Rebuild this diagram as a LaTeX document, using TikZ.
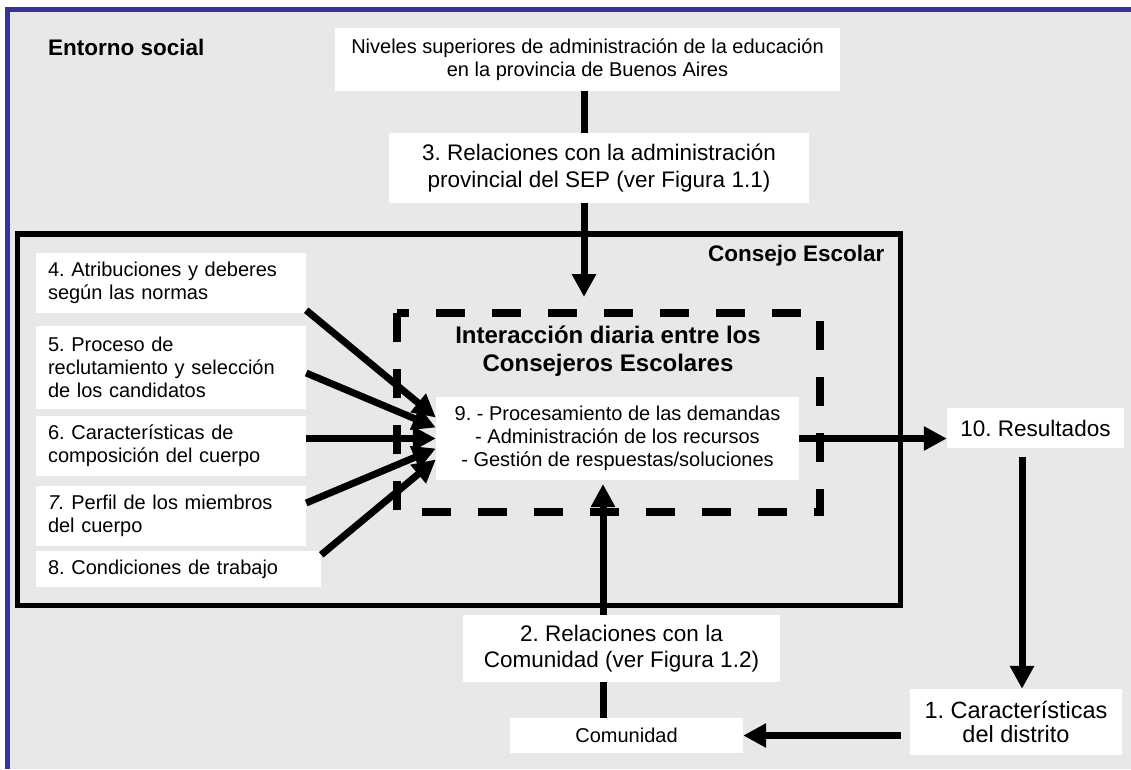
\documentclass[tikz,border=0pt]{standalone}
\usepackage{fontspec}
\setmainfont{Liberation Sans}
\usetikzlibrary{arrows.meta}
\definecolor{bggray}{RGB}{232,232,232}
\definecolor{frameblue}{RGB}{51,51,153}
\frenchspacing
\tikzset{
  flow/.style={draw=black,line width=7pt,-{Triangle[length=23pt,width=23pt]}},
  link/.style={draw=black,line width=7pt},
  box/.style={fill=white,inner sep=0pt,align=center},
  lbox/.style={fill=white,inner xsep=12pt,inner ysep=0pt,align=left,text width=246pt},
  txt/.style={font=\fontsize{20}{23}\selectfont},
  big/.style={font=\fontsize{22.5}{26.5}\selectfont},
  head/.style={inner sep=0pt,font=\bfseries\fontsize{22.5}{27}\selectfont}
}

\begin{document}
\begin{tikzpicture}[x=1pt,y=-1pt]
    \useasboundingbox (0,0) rectangle (1131,769);
    \fill[white] (0,0) rectangle (1131,769);
    \fill[bggray] (7.5,9.5) rectangle (1131,769);
    \draw[frameblue,line width=5pt] (7.5,769) -- (7.5,9.5) -- (1131,9.5);
    \draw[line width=5.5pt] (17.5,234) rectangle (900.5,605.5);
    \draw[line width=8pt,dash pattern=on 29pt off 27pt] (397,313) rectangle (820,512);

    \node[head,anchor=base west] (ES) at (48,55) {Entorno social};
    \node[head,anchor=base west] (CE) at (708,261) {Consejo Escolar};
    \node[inner sep=0pt,align=center,font=\bfseries\fontsize{24}{28}\selectfont] (IT) at (608,351) {Interacción diaria entre los\\Consejeros Escolares};

    \node[box,txt,minimum width=505pt,minimum height=63pt] (N) at (587.5,59.5) {Niveles superiores de administración de la educación\\en la provincia de Buenos Aires};
    \node[box,big,minimum width=420pt,minimum height=70pt] (R3) at (599,168) {3. Relaciones con la administración\\provincial del SEP (ver Figura 1.1)};
    \node[box,txt,minimum width=363pt,minimum height=83pt] (I9) at (617.5,438.5) {9. - Procesamiento de las demandas\\- Administración de los recursos\\- Gestión de respuestas/soluciones};

    \node[lbox,txt,minimum height=60pt] (A4) at (171,283) {4. Atribuciones y deberes\\según las normas};
    \node[lbox,txt,minimum height=83pt] (P5) at (171,367.5) {5. Proceso de\\reclutamiento y selección\\de los candidatos};
    \node[lbox,txt,minimum height=60pt] (C6) at (171,446) {6. Características de\\composición del cuerpo};
    \node[lbox,txt,minimum height=60pt] (M7) at (171,516) {\textit{7.} Perfil de los miembros\\del cuerpo};
    \node[lbox,txt,text width=261pt,minimum height=36pt] (T8) at (178.5,569) {8. Condiciones de trabajo};

    \node[box,big,minimum width=177pt,minimum height=40pt] (R10) at (1035.5,428) {10. Resultados};
    \node[box,font=\fontsize{23.5}{24.5}\selectfont,minimum width=212pt,minimum height=66pt] (D1) at (1016,722) {1. Características\\del distrito};
    \node[box,big,minimum width=317pt,minimum height=67pt] (R2) at (621.5,648.5) {2. Relaciones con la\\Comunidad (ver Figura 1.2)};
    \node[box,txt,minimum width=233pt,minimum height=35pt] (C) at (626.5,735.5) {Comunidad};

    \coordinate (T3) at (584,297);
    \draw[link] (N.south -| T3) -- (R3.north -| T3);
    \draw[flow] (R3.south -| T3) -- (T3);
    \coordinate (T2) at (603,484);
    \draw[link] (C.north -| T2) -- (R2.south -| T2);
    \draw[flow] (R2.north -| T2) -- (T2);

    \draw[flow] ([yshift=3pt]A4.south east) -- ([yshift=21pt]I9.west);
    \draw[flow] ([yshift=-5.5pt]P5.east) -- ([yshift=11pt]I9.west);
    \draw[flow] (C6.east |- I9.west) -- (I9.west);
    \draw[flow] ([yshift=13pt]M7.east) -- ([yshift=-10pt]I9.west);
    \draw[flow] ([yshift=-4pt]T8.north east) -- ([yshift=-21pt]I9.west);

    \draw[flow] (I9.east) -- (I9.east -| R10.west);
    \coordinate (T10) at (1022,457);
    \draw[flow] (T10) -- (T10 |- D1.north);
    \coordinate (T1) at (901,735.5);
    \draw[flow] (T1) -- (T1 -| C.east);
\end{tikzpicture}
\end{document}
